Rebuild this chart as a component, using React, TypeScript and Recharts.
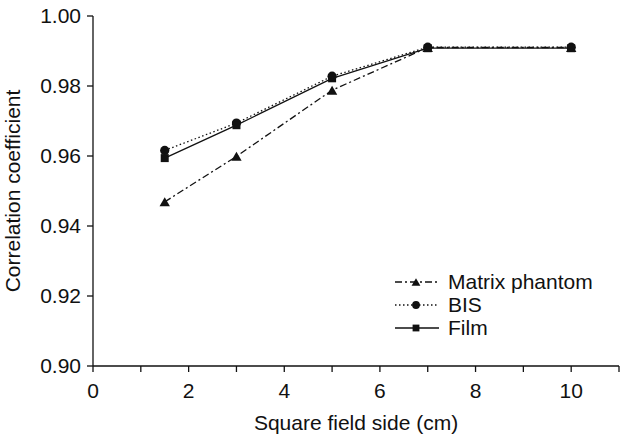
import React from "react";
import { LineChart, Line, XAxis, YAxis } from "recharts";

// field side (cm) and correlation coefficient per method
const fieldSides = [1.5, 3, 5, 7, 10];
const matrixPhantom = [0.9469, 0.9599, 0.9788, 0.991, 0.991];
const bis = [0.9616, 0.9694, 0.9828, 0.9911, 0.9911];
const film = [0.9594, 0.9688, 0.9822, 0.9908, 0.9908];

const xTicks = [0, 1, 2, 3, 4, 5, 6, 7, 8, 9, 10, 11];
const yTicks = [0.9, 0.92, 0.94, 0.96, 0.98, 1.0];

const data = fieldSides.map((x, i) => ({
  x,
  matrix: matrixPhantom[i],
  bis: bis[i],
  film: film[i],
}));

const INK = "#111";
const FONT = "'Liberation Sans', Arial, sans-serif";

const seriesList = [
  { key: "matrix", name: "Matrix phantom", dash: "7 3 2 3", shape: "triangle" },
  { key: "bis", name: "BIS", dash: "1.5 2.5", shape: "circle" },
  { key: "film", name: "Film", dash: undefined, shape: "square" },
];

function Marker({ shape, cx, cy, s = 1 }: { shape: string; cx: number; cy: number; s?: number }) {
  if (shape === "triangle") {
    const w = 5.2 * s;
    const h = 9 * s;
    return (
      <polygon
        points={`${cx - w},${cy + h / 2} ${cx + w},${cy + h / 2} ${cx},${cy - h / 2}`}
        fill={INK}
      />
    );
  }
  if (shape === "circle") {
    return <circle cx={cx} cy={cy} r={4.6 * s} fill={INK} />;
  }
  const h = 4 * s;
  return <rect x={cx - h} y={cy - h} width={h * 2} height={h * 2} fill={INK} />;
}

function renderDot(shape: string) {
  return (p: any) => (
    <Marker key={`${shape}-${p.index}`} shape={shape} cx={p.cx} cy={p.cy} />
  );
}

// legend drawn beside the chart so it doesn't shrink the plot area
function LegendBox() {
  return (
    <div
      style={{
        position: "absolute",
        left: 395,
        top: 270,
        fontFamily: FONT,
        fontSize: 21,
        color: INK,
      }}
    >
      {seriesList.map((s) => (
        <div key={s.key} style={{ display: "flex", alignItems: "center", height: 23 }}>
          <svg width={44} height={16} style={{ marginRight: 9 }}>
            <line
              x1={0}
              y1={8}
              x2={44}
              y2={8}
              stroke={INK}
              strokeWidth={1.3}
              strokeDasharray={s.dash}
            />
            <Marker shape={s.shape} cx={21} cy={8} s={0.85} />
          </svg>
          <span style={{ lineHeight: "23px", whiteSpace: "nowrap" }}>{s.name}</span>
        </div>
      ))}
    </div>
  );
}

export default function App() {
  return (
    <div style={{ position: "absolute", left: 0, top: 0, width: 620, height: 436, background: "#fff" }}>
      <LineChart
        width={620}
        height={436}
        data={data}
        margin={{ top: 16, right: 1, left: 0, bottom: 0 }}
        style={{ fontFamily: FONT }}
      >
        <XAxis
          dataKey="x"
          type="number"
          domain={[0, 11]}
          ticks={xTicks}
          interval={0}
          height={70}
          tickSize={6}
          tickMargin={11}
          tickFormatter={(v: number) => (v % 2 === 0 && v <= 10 ? String(v) : "")}
          axisLine={{ stroke: INK, strokeWidth: 1.3 }}
          tickLine={{ stroke: INK, strokeWidth: 1.3 }}
          tick={{ fill: INK, fontSize: 21 }}
          label={{
            value: "Square field side (cm)",
            position: "insideBottom",
            offset: 6,
            fill: INK,
            fontSize: 21,
          }}
        />
        <YAxis
          type="number"
          domain={[0.9, 1.0]}
          ticks={yTicks}
          interval={0}
          width={93}
          tickSize={6}
          tickMargin={6}
          tickFormatter={(v: number) => v.toFixed(2)}
          axisLine={{ stroke: INK, strokeWidth: 1.3 }}
          tickLine={{ stroke: INK, strokeWidth: 1.3 }}
          tick={{ fill: INK, fontSize: 21 }}
          label={{
            value: "Correlation coefficient",
            angle: -90,
            position: "insideLeft",
            offset: 13,
            fill: INK,
            fontSize: 21,
            style: { textAnchor: "middle" },
          }}
        />
        {seriesList.map((s) => (
          <Line
            key={s.key}
            dataKey={s.key}
            name={s.name}
            stroke={INK}
            strokeWidth={1.3}
            strokeDasharray={s.dash}
            dot={renderDot(s.shape)}
            activeDot={false}
            isAnimationActive={false}
          />
        ))}
      </LineChart>
      <LegendBox />
    </div>
  );
}
